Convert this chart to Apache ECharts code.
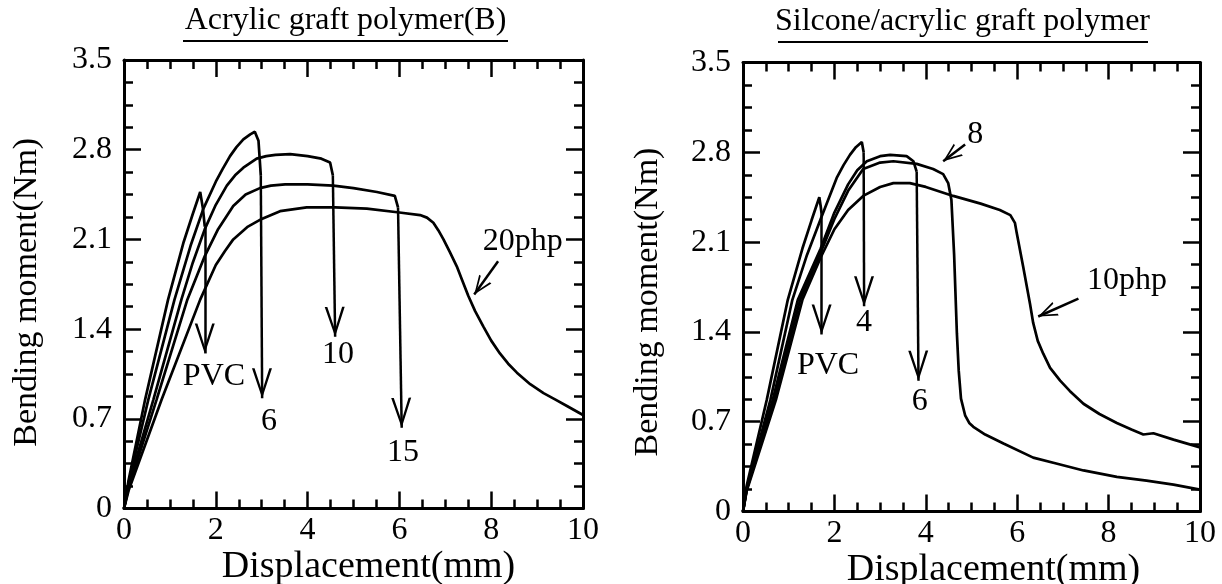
<!DOCTYPE html>
<html><head><meta charset="utf-8">
<script src="https://cdn.jsdelivr.net/npm/echarts@6/dist/echarts.min.js"></script>
<style>html,body{margin:0;padding:0;background:#fff}#c{width:1222px;height:584px}</style>
</head><body><div id="c"></div>
<script>
// ---------- data ----------
const titles = ['Acrylic graft polymer(B)', 'Silcone/acrylic graft polymer'];
const xTickLabels = ['0', '2', '4', '6', '8', '10'];
const yTickLabels = ['0', '0.7', '1.4', '2.1', '2.8', '3.5'];
const xName = 'Displacement(mm)';
const yName = 'Bending moment(Nm)';

// Left panel: Acrylic graft polymer(B)
const L_PVC = [[0,0],[0.1,0.22],[0.46,0.85],[0.96,1.63],[1.3,2.08],[1.5,2.3],[1.66,2.47],[1.72,2.34],[1.76,2.2]];
const L_6   = [[0,0],[0.1,0.2],[0.53,0.85],[1.1,1.63],[1.45,2.05],[1.73,2.34],[2.0,2.55],[2.15,2.65],[2.31,2.75],[2.45,2.82],[2.6,2.88],[2.75,2.92],[2.85,2.94],[2.93,2.87],[2.98,2.6]];
const L_10  = [[0,0],[0.1,0.18],[0.64,0.85],[1.25,1.63],[1.5,1.92],[1.76,2.18],[2.0,2.37],[2.24,2.52],[2.42,2.6],[2.6,2.66],[2.89,2.73],[3.1,2.75],[3.3,2.76],[3.62,2.765],[4.0,2.75],[4.3,2.73],[4.49,2.7],[4.55,2.6]];
const L_15  = [[0,0],[0.1,0.16],[0.71,0.85],[1.38,1.63],[1.76,1.97],[2.05,2.18],[2.38,2.36],[2.65,2.45],[2.96,2.5],[3.2,2.52],[3.51,2.53],[4.0,2.53],[4.56,2.52],[5.0,2.5],[5.51,2.47],[5.9,2.44],[5.97,2.35]];
const L_20  = [[0,0],[0.1,0.14],[0.82,0.85],[1.66,1.63],[2.0,1.9],[2.2,2.01],[2.38,2.1],[2.7,2.2],[3.0,2.26],[3.4,2.32],[3.98,2.35],[4.6,2.35],[5.29,2.34],[6.0,2.31],[6.45,2.29],[6.6,2.27],[6.74,2.23],[6.85,2.17],[6.96,2.1],[7.1,2.0],[7.25,1.89],[7.37,1.78],[7.5,1.66],[7.65,1.54],[7.83,1.42],[8.0,1.31],[8.19,1.21],[8.37,1.13],[8.56,1.06],[8.85,0.97],[9.14,0.9],[9.4,0.85],[9.65,0.8],[10,0.73]];
// failure arrow tips (left)
const L_tips = { PVC: [1.76,1.21], '6': [3.01,0.86], '10': [4.6,1.34], '15': [6.05,0.63] };
// pointer arrow (left): from, to
const L_pointer = [[8.15,1.93],[7.63,1.67]];
const L_labels = [['PVC',1.96,1.03],['6',3.16,0.68],['10',4.66,1.2],['15',6.08,0.44],['20php',8.69,2.08]];

// Right panel: Silcone/acrylic graft polymer
const R_PVC = [[0,0],[0.08,0.2],[0.52,0.87],[0.98,1.65],[1.3,2.05],[1.5,2.27],[1.67,2.45],[1.7,2.38],[1.72,2.32]];
const R_4   = [[0,0],[0.08,0.18],[0.6,0.87],[1.08,1.65],[1.4,2.0],[1.7,2.28],[2.05,2.6],[2.2,2.7],[2.34,2.78],[2.47,2.84],[2.6,2.88],[2.64,2.8]];
const R_6   = [[0,0],[0.08,0.17],[0.65,0.87],[1.2,1.65],[1.7,2.05],[2.0,2.33],[2.3,2.55],[2.5,2.66],[2.71,2.73],[3.0,2.77],[3.22,2.78],[3.58,2.77],[3.73,2.73],[3.8,2.65]];
const R_8   = [[0,0],[0.08,0.17],[0.68,0.87],[1.25,1.65],[1.7,2.02],[2.0,2.28],[2.3,2.5],[2.63,2.67],[3.0,2.72],[3.29,2.73],[3.8,2.71],[4.16,2.67],[4.38,2.63],[4.49,2.56],[4.56,2.43],[4.62,2.0],[4.68,1.39],[4.72,1.1],[4.77,0.88],[4.86,0.75],[4.95,0.69],[5.04,0.66],[5.3,0.6],[5.7,0.53],[6.35,0.42],[6.79,0.38],[7.45,0.32],[8.18,0.27],[8.83,0.24],[9.42,0.21],[10,0.17]];
const R_10  = [[0,0],[0.08,0.16],[0.72,0.87],[1.3,1.65],[1.7,1.98],[2.0,2.2],[2.3,2.35],[2.63,2.46],[3.0,2.53],[3.29,2.56],[3.65,2.56],[4.0,2.53],[4.6,2.46],[5.2,2.4],[5.62,2.35],[5.85,2.31],[5.95,2.25],[5.99,2.17],[6.13,1.91],[6.28,1.62],[6.35,1.47],[6.45,1.33],[6.57,1.23],[6.72,1.12],[6.94,1.02],[7.15,0.94],[7.45,0.84],[7.8,0.76],[8.18,0.69],[8.5,0.64],[8.76,0.6],[8.98,0.61],[9.42,0.56],[10,0.5]];
const R_tips = { PVC: [1.72,1.38], '4': [2.65,1.6], '6': [3.84,1.02] };
const R_pointers = [[[4.86,2.86],[4.38,2.73]], [[7.34,1.66],[6.46,1.52]]];
const R_labels = [['PVC',1.86,1.14],['4',2.65,1.47],['6',3.87,0.86],['8',5.08,2.94],['10php',8.4,1.8]];

// ---------- styling ----------
const FONT = '"Liberation Serif", "Times New Roman", serif';
const CHEV = 'path://M0,30 L10,0 L20,30 L17.4,30 L10,7 L2.6,30 Z';
const BIG = [20, 30], SMALL = [15, 19];
const grids = [
  { left: 124, top: 60, width: 459, height: 448.5 },
  { left: 743, top: 62.5, width: 457, height: 449 }
];
const yNameGap = [80, 78];
const xNamePad = [[0, 0, 0, 30], [0, 0, 0, 44]];
const yNamePad = [[0, 16, 0, 0], [0, 30, 0, 0]];

function xAx(g, pos, main) {
  return {
    type: 'value', gridIndex: g, position: pos, min: 0, max: 10, interval: 2,
    axisLine: { show: true, onZero: false, lineStyle: { color: '#000', width: 3 } },
    axisTick: { show: true, inside: true, length: 17, lineStyle: { color: '#000', width: 2.5 } },
    minorTick: { show: true, splitNumber: 4, length: 9, lineStyle: { color: '#000', width: 2.5 } },
    splitLine: { show: false }, minorSplitLine: { show: false },
    axisLabel: { show: main, margin: 6, color: '#000', fontFamily: FONT, fontSize: 32,
      showMinLabel: true, showMaxLabel: true,
      formatter: v => xTickLabels[Math.round(v / 2)] },
    name: main ? xName : '', nameLocation: 'middle', nameGap: 40, nameMoveOverlap: false,
    nameTextStyle: { color: '#000', fontFamily: FONT, fontSize: 38, padding: xNamePad[g] }
  };
}
function yAx(g, pos, main) {
  return {
    type: 'value', gridIndex: g, position: pos, min: 0, max: 3.5, interval: 0.7,
    axisLine: { show: true, onZero: false, lineStyle: { color: '#000', width: 3 } },
    axisTick: { show: true, inside: true, length: 17, lineStyle: { color: '#000', width: 2.5 } },
    minorTick: { show: true, splitNumber: 4, length: 9, lineStyle: { color: '#000', width: 2.5 } },
    splitLine: { show: false }, minorSplitLine: { show: false },
    axisLabel: { show: main, margin: 12, color: '#000', fontFamily: FONT, fontSize: 32,
      showMinLabel: true, showMaxLabel: true,
      formatter: v => yTickLabels[Math.round(v / 0.7)] },
    name: main ? yName : '', nameLocation: 'middle', nameGap: yNameGap[g], nameMoveOverlap: false,
    nameTextStyle: { color: '#000', fontFamily: FONT, fontSize: 34, padding: yNamePad[g] }
  };
}

function curve(data, axi) {
  return { type: 'line', data: data, xAxisIndex: axi, yAxisIndex: axi, showSymbol: false,
    symbol: 'none', lineStyle: { color: '#000', width: 2.7 }, silent: true, animation: false, z: 3 };
}
function arrowItem(from, to, size) {
  return [{ coord: from, symbol: 'none' },
          { coord: to, symbol: CHEV, symbolSize: size, symbolOffset: [0, '50%'] }];
}
function arrowSeries(axi, items) {
  return { type: 'line', data: [], xAxisIndex: axi, yAxisIndex: axi, silent: true, animation: false,
    markLine: { silent: true, animation: false, symbol: ['none', CHEV],
      label: { show: false }, emphasis: { disabled: true },
      lineStyle: { color: '#000', width: 2.5, type: 'solid', opacity: 1 },
      data: items }, z: 4 };
}
function labelSeries(axi, labels) {
  return { type: 'scatter', xAxisIndex: axi, yAxisIndex: axi, silent: true, animation: false,
    symbolSize: 1, itemStyle: { color: 'rgba(0,0,0,0)', opacity: 1 },
    data: labels.map(l => ({ name: l[0], value: [l[1], l[2]] })),
    label: { show: true, position: 'inside', formatter: '{b}', color: '#000', opacity: 1,
      fontFamily: FONT, fontSize: 32 },
    z: 5 };
}
const last = a => a[a.length - 1];

const series = [];
// left panel (axis index 0)
[L_PVC, L_6, L_10, L_15, L_20].forEach(d => series.push(curve(d, 0)));
series.push(arrowSeries(0, [
  arrowItem(last(L_PVC), L_tips.PVC, BIG),
  arrowItem(last(L_6), L_tips['6'], BIG),
  arrowItem(last(L_10), L_tips['10'], BIG),
  arrowItem(last(L_15), L_tips['15'], BIG),
  arrowItem(L_pointer[0], L_pointer[1], SMALL)
]));
series.push(labelSeries(0, L_labels));
// right panel (axis index 2)
[R_PVC, R_4, R_6, R_8, R_10].forEach(d => series.push(curve(d, 2)));
series.push(arrowSeries(2, [
  arrowItem(last(R_PVC), R_tips.PVC, BIG),
  arrowItem(last(R_4), R_tips['4'], BIG),
  arrowItem(last(R_6), R_tips['6'], BIG),
  arrowItem(R_pointers[0][0], R_pointers[0][1], SMALL),
  arrowItem(R_pointers[1][0], R_pointers[1][1], SMALL)
]));
series.push(labelSeries(2, R_labels));

const chart = echarts.init(document.getElementById('c'), null, { renderer: 'canvas' });
chart.setOption({
  backgroundColor: '#fff',
  animation: false,
  grid: grids.map(g => Object.assign({ containLabel: false, outerBoundsMode: 'none' }, g)),
  xAxis: [xAx(0, 'bottom', true), xAx(0, 'top', false), xAx(1, 'bottom', true), xAx(1, 'top', false)],
  yAxis: [yAx(0, 'left', true), yAx(0, 'right', false), yAx(1, 'left', true), yAx(1, 'right', false)],
  graphic: [
    { type: 'text', x: 345.5, y: 21, silent: true,
      style: { text: titles[0], fill: '#000', font: '32px ' + FONT, align: 'center', verticalAlign: 'middle' } },
    { type: 'line', silent: true, shape: { x1: 183, y1: 41, x2: 508, y2: 41 }, style: { stroke: '#000', lineWidth: 2 } },
    { type: 'text', x: 962.5, y: 22, silent: true,
      style: { text: titles[1], fill: '#000', font: '32px ' + FONT, align: 'center', verticalAlign: 'middle' } },
    { type: 'line', silent: true, shape: { x1: 778, y1: 42, x2: 1148, y2: 42 }, style: { stroke: '#000', lineWidth: 2 } }
  ],
  series: series
});
</script>
</body></html>
